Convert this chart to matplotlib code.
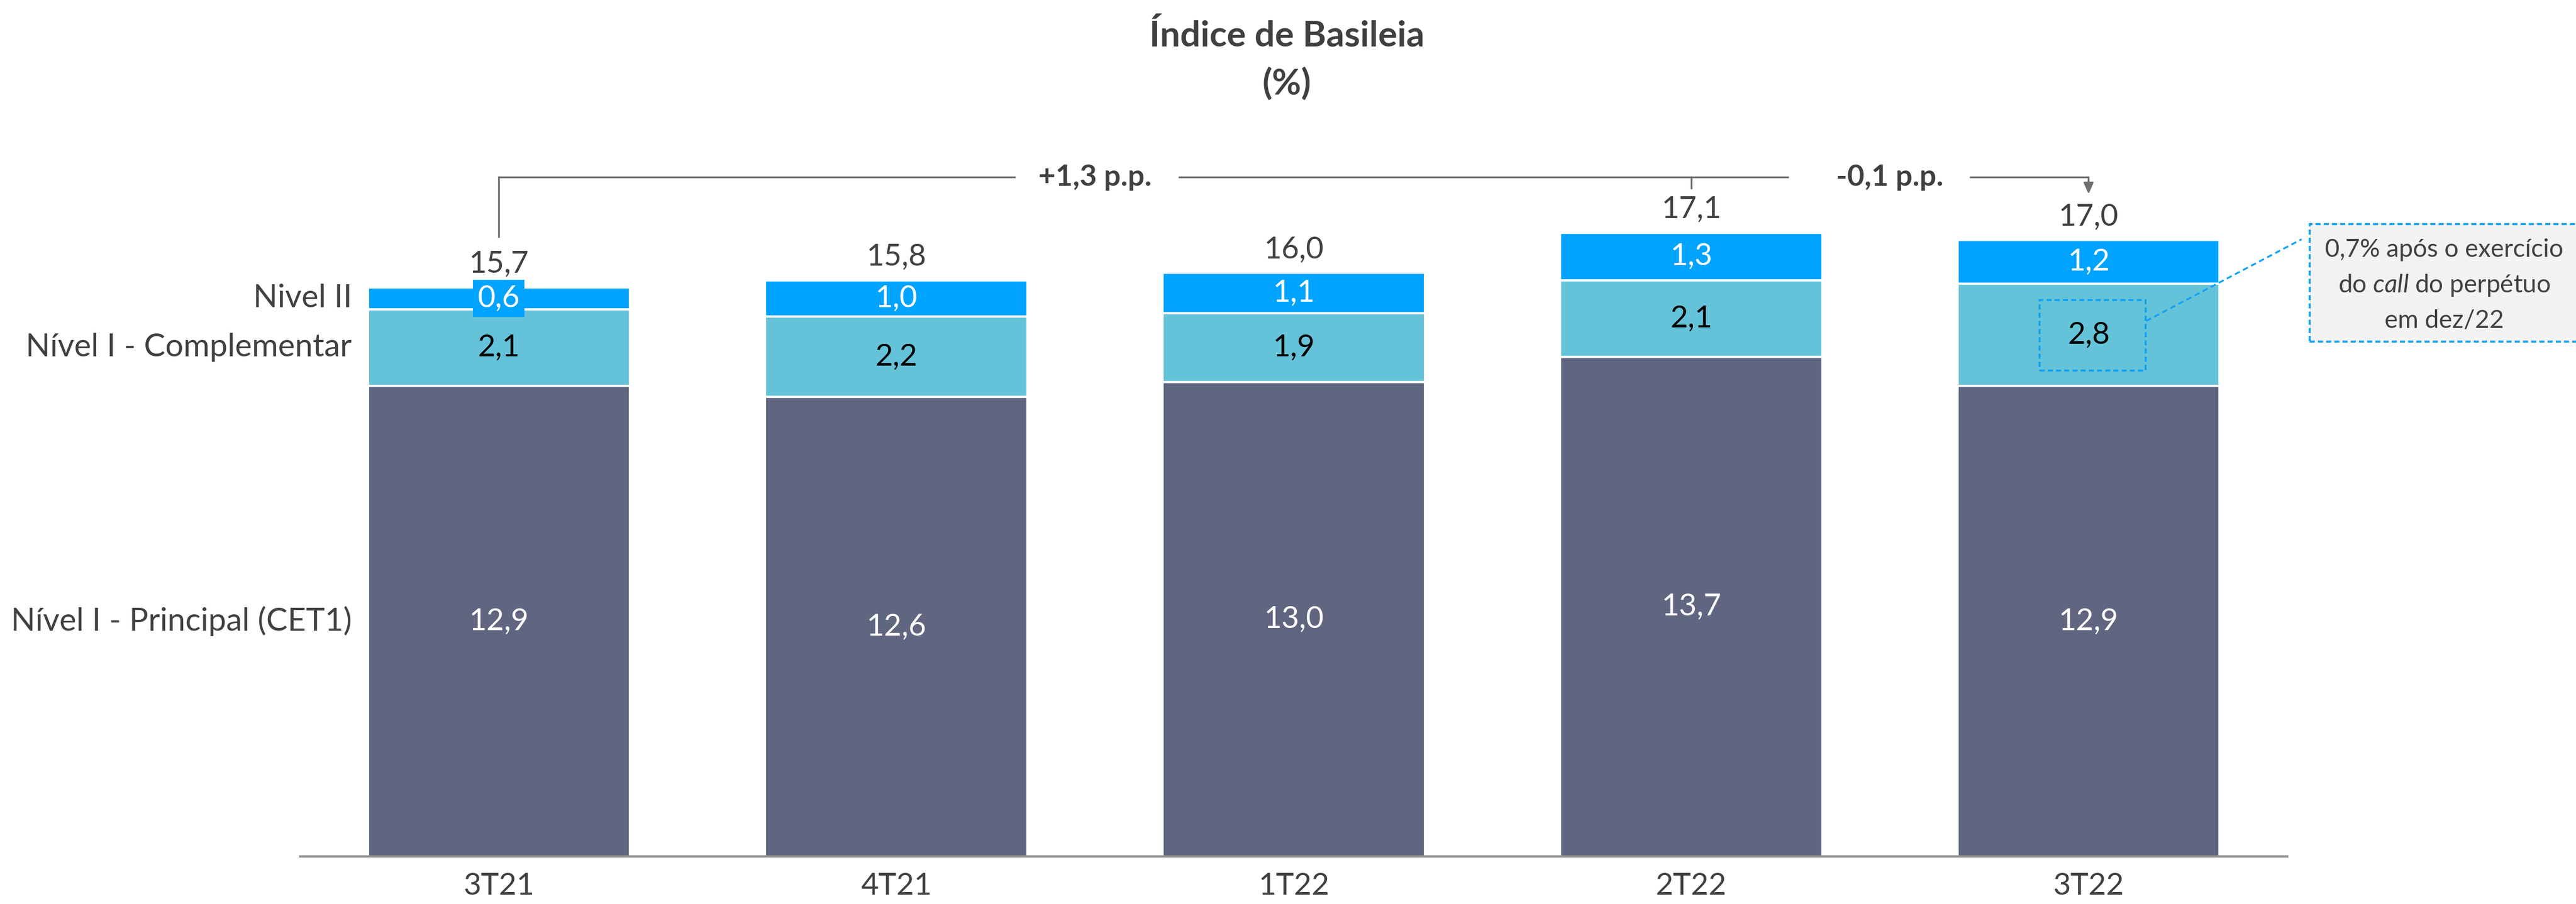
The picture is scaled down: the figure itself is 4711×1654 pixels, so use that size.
import matplotlib
matplotlib.use('Agg')
import matplotlib.pyplot as plt
from matplotlib.patches import Rectangle
import numpy as np

plt.rcParams['font.family'] = ['Lato', 'DejaVu Sans']
plt.rcParams['mathtext.fontset'] = 'custom'
plt.rcParams['mathtext.rm'] = 'Lato'
plt.rcParams['mathtext.it'] = 'Lato:italic'

# ---------------- data ----------------
categories = ['3T21', '4T21', '1T22', '2T22', '3T22']
cet1 = [12.9, 12.6, 13.0, 13.7, 12.9]
complementar = [2.1, 2.2, 1.9, 2.1, 2.8]
nivel2 = [0.6, 1.0, 1.1, 1.3, 1.2]
totals = [15.7, 15.8, 16.0, 17.1, 17.0]
series_names = ['Nível I - Principal (CET1)', 'Nível I - Complementar', 'Nivel II']
var_labels = ['+1,3 p.p.', '-0,1 p.p.']
callout_lines = ['0,7% após o exercício', 'do $\\mathit{call}$ do perpétuo', 'em dez/22']
title = 'Índice de Basileia'
subtitle = '(%)'


def fmt(v):
    return f'{v:.1f}'.replace('.', ',')


W, H = 4711, 1654
DPI = 300
fig = plt.figure(figsize=(W / DPI, H / DPI), dpi=DPI)
ax = fig.add_axes([549 / W, 87 / H, 3634 / W, 1334.8 / H])

x = np.arange(len(categories))
bw = 0.66
c_cet1, c_comp, c_n2 = '#606580', '#64C3D8', '#00A3FF'
txt = '#404040'
FS = 13.4

bot2 = np.array(cet1)
bot3 = bot2 + np.array(complementar)
tops = bot3 + np.array(nivel2)
ax.bar(x, cet1, bw, color=c_cet1, edgecolor='white', linewidth=1.0)
ax.bar(x, complementar, bw, bottom=bot2, color=c_comp, edgecolor='white', linewidth=1.0)
ax.bar(x, nivel2, bw, bottom=bot3, color=c_n2, edgecolor='white', linewidth=1.0)

ax.set_xlim(-0.5, 4.5)
ax.set_ylim(0, 20)
for s in ['top', 'right', 'left']:
    ax.spines[s].set_visible(False)
ax.spines['bottom'].set_color('#8C8C8C')
ax.spines['bottom'].set_linewidth(1.0)
ax.spines['bottom'].set_zorder(5)
ax.set_yticks([])
ax.set_xticks(x, categories)
ax.tick_params(axis='x', length=0, pad=7, labelsize=FS, labelcolor=txt)

for i in x:
    ax.text(i, cet1[i] / 2, fmt(cet1[i]), ha='center', va='center', color='white', fontsize=FS)
    ax.text(i, bot2[i] + complementar[i] / 2, fmt(complementar[i]), ha='center', va='center',
            color='black', fontsize=FS)
    bbox = None
    if nivel2[i] < 0.8:
        bbox = dict(boxstyle='square,pad=0.15', fc=c_n2, ec='none')
    ax.text(i, bot3[i] + nivel2[i] / 2, fmt(nivel2[i]), ha='center', va='center', color='white',
            fontsize=FS, bbox=bbox)
    ax.annotate(fmt(totals[i]), (i, tops[i]), xytext=(0, 6.5), textcoords='offset points',
                ha='center', va='baseline', color=txt, fontsize=FS)

# series labels at the left
seg_centers = [cet1[0] / 2, bot2[0] + complementar[0] / 2, bot3[0] + nivel2[0] / 2]
for name, yc in zip(series_names, seg_centers):
    ax.text(-0.37, yc, name, ha='right', va='center', color=txt, fontsize=14, clip_on=False)

# title
fig.text(0.4995, 1 - 85 / H, title, ha='center', va='baseline', fontsize=15.7,
         fontweight='bold', color=txt)
fig.text(0.4995, 1 - 173 / H, subtitle, ha='center', va='baseline', fontsize=15.7,
         fontweight='bold', color=txt)

# variation bracket
lc = '#6F6F6F'
ly = 18.62
blw = 0.8
ax.plot([0, 0], [16.99, ly], color=lc, lw=blw, clip_on=False)
for a, b in [(0, 1.30), (1.71, 3.245), (3.70, 4)]:
    ax.plot([a, b], [ly, ly], color=lc, lw=blw, clip_on=False, solid_capstyle='butt')
ax.plot([3, 3], [ly, 18.32], color=lc, lw=blw, clip_on=False)
ax.annotate('', xy=(4, 18.16), xytext=(4, ly),
            arrowprops=dict(arrowstyle='-|>,head_length=0.45,head_width=0.2', color=lc, lw=blw,
                            shrinkA=0, shrinkB=0, mutation_scale=9))
ax.text(1.5, ly, var_labels[0], ha='center', va='center', fontsize=13, fontweight='bold', color=txt)
ax.text(3.5, ly, var_labels[1], ha='center', va='center', fontsize=13, fontweight='bold', color=txt)

# callout
blue = '#12A2F2'
fig.patches.append(Rectangle((4224 / W, 1 - 625 / H), 600 / W, 215 / H, transform=fig.transFigure,
                             fc='#F2F2F2', ec=blue, ls=(0, (2.5, 1.5)), lw=0.9, zorder=1))
for line, yb in zip(callout_lines, [470, 535, 600]):
    fig.text(4470 / W, 1 - yb / H, line, ha='center', va='baseline', fontsize=11, color=txt, zorder=3)
ax.add_patch(Rectangle((3.877, 13.32), 0.267, 1.94, fc='none', ec=blue, ls=(0, (2.5, 1.5)), lw=0.9,
                       zorder=4))
ax.plot([4.145, 4.536], [14.68, 16.92], ls=(0, (3, 2)), color=blue, lw=0.8, clip_on=False, zorder=4)

fig.savefig('out.png', dpi=DPI)
